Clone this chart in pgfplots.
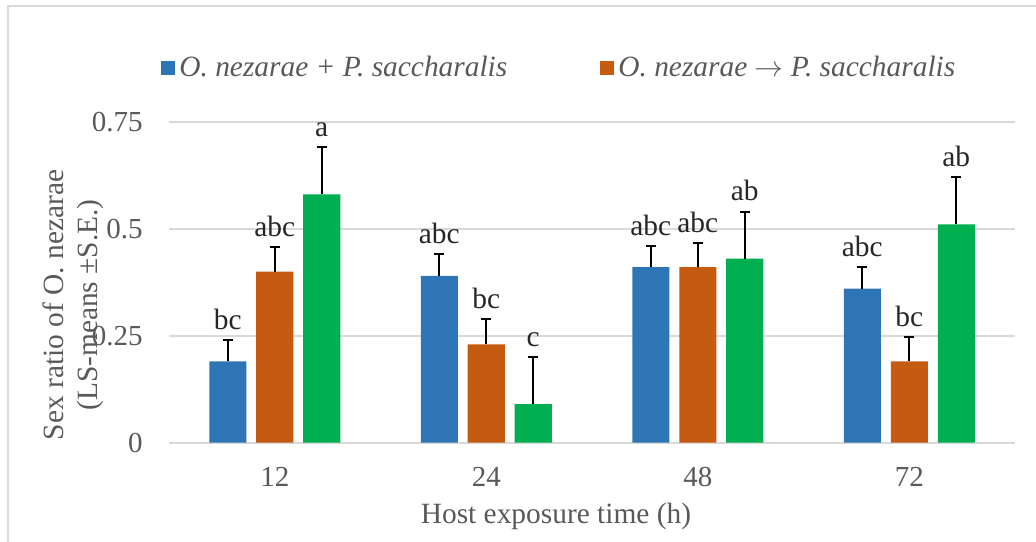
\documentclass[border=0pt]{standalone}
\usepackage{pgfplots}
\pgfplotsset{compat=1.18}
\usepackage{fontspec}
\setmainfont{Liberation Serif}
\definecolor{cblue}{HTML}{2E75B6}
\definecolor{corange}{HTML}{C55A11}
\definecolor{cgreen}{HTML}{00B050}
\definecolor{cgrid}{HTML}{D9D9D9}
\definecolor{ctext}{HTML}{595959}
\definecolor{clet}{HTML}{262626}
\begin{document}
\begin{tikzpicture}
\useasboundingbox (0,0) rectangle (518pt,-270.5pt);
\draw[cgrid, line width=1pt] (3.85pt,-280pt) -- (3.85pt,-2.75pt) -- (530pt,-2.75pt);
\begin{axis}[
  at={(84.5pt,-221.35pt)}, anchor=south west,
  scale only axis, width=423pt, height=160.5pt,
  xmin=-0.5, xmax=3.5, ymin=0, ymax=0.75,
  axis line style={draw=none},
  xtick={0,1,2,3}, xticklabels={12,24,48,72},
  ytick={0,0.25,0.5,0.75}, yticklabels={0,0.25,0.5,0.75},
  major tick length=0pt,
  ymajorgrids, grid style={cgrid, line width=0.8pt},
  tick label style={font=\fontsize{14.5}{16}\selectfont, text=ctext},
  xticklabel style={inner sep=0pt, anchor=north, yshift=-12pt},
  yticklabel style={inner sep=0pt, anchor=east, xshift=-13pt},
  clip=false,
  xlabel={Host exposure time (h)},
  xlabel style={at={(axis description cs:0.4574,-0.2305)}, anchor=center, font=\fontsize{14.7}{16}\selectfont, text=ctext},
  ylabel={Sex ratio of O. nezarae\\(LS-means ±S.E.)},
  ylabel style={at={(axis description cs:-0.1136,0.429)}, anchor=center, align=center, font=\fontsize{14.7}{17}\selectfont, text=ctext},
  legend style={at={(-0.0095,1.167)}, anchor=west, draw=none, fill=none, inner sep=0pt,
    font=\fontsize{14.7}{16}\selectfont\itshape, text=ctext, legend columns=2,
    /tikz/every even column/.append style={column sep=44.5pt}},
  legend cell align=left,
  legend image code/.code={\fill[#1] (0pt,-3.5pt) rectangle (7pt,3.5pt);},
]
\addplot[ybar, bar width=0.175, bar shift=-0.2222, fill=cblue, draw=none]
  coordinates {(0,0.19) (1,0.39) (2,0.41) (3,0.36)};
\addlegendentry{O. nezarae + P. saccharalis}
\addplot[ybar, bar width=0.175, bar shift=0, fill=corange, draw=none]
  coordinates {(0,0.40) (1,0.23) (2,0.41) (3,0.19)};
\addlegendentry{O. nezarae $\rightarrow$ P. saccharalis}
\addplot[ybar, bar width=0.175, bar shift=0.2222, fill=cgreen, draw=none, forget plot]
  coordinates {(0,0.58) (1,0.09) (2,0.43) (3,0.51)};
% error bars (upper only), at the bar positions
\addplot[draw=none, mark=none, forget plot,
  error bars/.cd, y dir=plus, y explicit, error mark=none,
  error bar style={draw=black, line width=1pt}]
  coordinates {
  (-0.2222,0.19) +- (0,0.05) (0.7778,0.39) +- (0,0.05) (1.7778,0.41) +- (0,0.05) (2.7778,0.36) +- (0,0.05)
  (0,0.40) +- (0,0.058) (1,0.23) +- (0,0.058) (2,0.41) +- (0,0.056) (3,0.19) +- (0,0.056)
  (0.2222,0.58) +- (0,0.11) (1.2222,0.09) +- (0,0.11) (2.2222,0.43) +- (0,0.11) (3.2222,0.51) +- (0,0.11)
  };
% caps of the error bars (at value + S.E.)
\addplot[only marks, mark=-, mark size=2.6pt, mark options={draw=black, line width=1pt}, forget plot]
  coordinates {
  (-0.2222,0.24) (0.7778,0.44) (1.7778,0.46) (2.7778,0.41)
  (0,0.458) (1,0.288) (2,0.466) (3,0.246)
  (0.2222,0.69) (1.2222,0.20) (2.2222,0.54) (3.2222,0.62)
  };
\addplot[draw=none, mark=none, forget plot, nodes near coords, point meta=explicit symbolic,
  nodes near coords style={anchor=south, inner sep=0pt, yshift=5pt, font=\fontsize{14.7}{16}\selectfont, text=clet}]
  coordinates {
  (-0.2222,0.24)[bc] (0.7778,0.44)[abc] (1.7778,0.46)[abc] (2.7778,0.41)[abc]
  (0,0.458)[abc] (1,0.288)[bc] (2,0.466)[abc] (3,0.246)[bc]
  (0.2222,0.69)[a] (1.2222,0.20)[c] (2.2222,0.54)[ab] (3.2222,0.62)[ab]
  };
\end{axis}
\end{tikzpicture}
\end{document}
